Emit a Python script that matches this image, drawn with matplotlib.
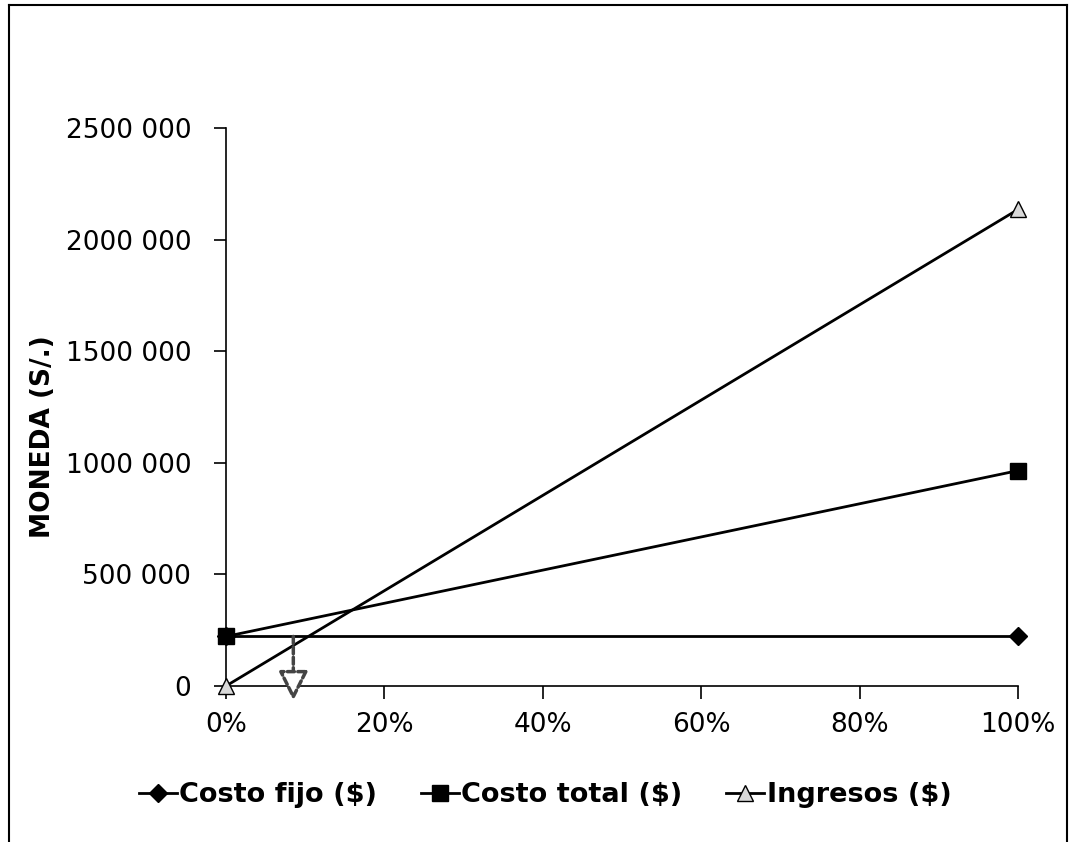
import matplotlib
matplotlib.use("Agg")
import matplotlib.pyplot as plt
from matplotlib.lines import Line2D
from matplotlib.ticker import FuncFormatter

# Data
nivel = [0.0, 1.0]
costo_fijo = [222000, 222000]
costo_total = [222000, 965000]
ingresos = [0, 2135000]
y_ticks = [0, 500000, 1000000, 1500000, 2000000, 2500000]
x_ticks = [0.0, 0.2, 0.4, 0.6, 0.8, 1.0]
punto_equilibrio = 0.085

plt.rcParams['font.family'] = ['DejaVu Sans']

fig = plt.figure(figsize=(10.75, 8.42), dpi=100)
ax = fig.add_axes([226/1075, 1-686/842, (1018-226)/1075, (686-128)/842])

ax.plot(nivel, costo_fijo, color='black', lw=2, marker='D', ms=9,
        label='Costo fijo ($)', clip_on=False, zorder=3)
ax.plot(nivel, costo_total, color='black', lw=2, marker='s', ms=11,
        label='Costo total ($)', clip_on=False, zorder=3)
ax.plot(nivel, ingresos, color='black', lw=2, marker='^', ms=12,
        mfc='#d9d9d9', mec='black', label='Ingresos ($)', clip_on=False, zorder=3)

ax.annotate('', xy=(punto_equilibrio, -65000), xytext=(punto_equilibrio, costo_fijo[0]),
            arrowprops=dict(arrowstyle='-|>,head_length=0.9,head_width=0.45', color='#444444',
                            lw=2.5, fc='white', ls=(0, (2, 1)), mutation_scale=20,
                            shrinkA=0, shrinkB=0),
            annotation_clip=False, zorder=4)

ax.set_xlim(0, 1)
ax.set_ylim(0, 2500000)
ax.set_xticks(x_ticks)
ax.set_yticks(y_ticks)
ax.xaxis.set_major_formatter(FuncFormatter(lambda v, p: f"{v*100:.0f}%"))

def fmt(v, p):
    v = int(round(v))
    if v == 0:
        return "0"
    s = f"{v:,}".replace(",", " ")
    parts = s.split(" ")
    if len(parts) > 2:
        return "".join(parts[:-1]) + " " + parts[-1]
    return s

ax.yaxis.set_major_formatter(FuncFormatter(fmt))
ax.tick_params(axis='both', labelsize=19, length=9, width=1.2, direction='out')
ax.tick_params(axis='y', pad=16)
ax.tick_params(axis='x', pad=10)
for s in ['top', 'right']:
    ax.spines[s].set_visible(False)
for s in ['left', 'bottom']:
    ax.spines[s].set_linewidth(1.2)

ax.set_ylabel('MONEDA (S/.)', fontsize=19, fontweight='bold')
ax.yaxis.set_label_coords((56-226)/792, 1-(437-128)/558)

fig.legend(loc='center', bbox_to_anchor=(0.507, 1-795/842), ncol=3, frameon=False,
           prop={'size': 19.5, 'weight': 'bold'}, handlelength=1.4, columnspacing=1.6,
           handletextpad=0.1)

# figure frame
fx0, fx1, fy1 = 9/1075, 1067/1075, 1-5/842
fig.add_artist(Line2D([fx0, fx0], [0, fy1], transform=fig.transFigure, color='black', lw=1.5))
fig.add_artist(Line2D([fx0, fx1], [fy1, fy1], transform=fig.transFigure, color='black', lw=1.5))
fig.add_artist(Line2D([fx1, fx1], [0, fy1], transform=fig.transFigure, color='black', lw=1.5))

fig.savefig('out.png', dpi=100)
